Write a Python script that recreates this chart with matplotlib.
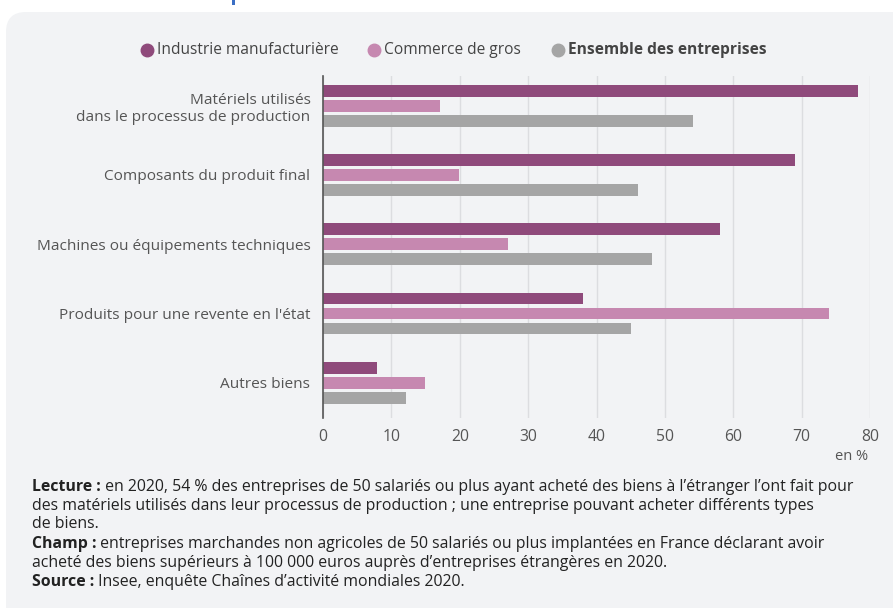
import matplotlib.pyplot as plt
import numpy as np
from matplotlib.patches import FancyBboxPatch, Rectangle

# %% Données
categories = [
    "Matériels utilisés\ndans le processus de production",
    "Composants du produit final",
    "Machines ou équipements techniques",
    "Produits pour une revente en l'état",
    "Autres biens",
]
industrie = [78.2, 69.0, 58.0, 38.0, 7.9]
commerce = [17.1, 19.9, 27.1, 74.0, 14.9]
ensemble = [54.1, 46.0, 48.1, 45.0, 12.1]
series_names = ["Industrie manufacturière", "Commerce de gros", "Ensemble des entreprises"]
x_ticks = [0, 10, 20, 30, 40, 50, 60, 70, 80]

colors = ["#8f4a7b", "#c688b0", "#a5a5a5"]
bg = "#f2f3f5"
text_col = "#555555"
plt.rcParams["font.family"] = ["Open Sans", "DejaVu Sans"]

# %% Figure
W, H = 893, 608
fig = plt.figure(figsize=(W / 100, H / 100), dpi=100)
fig.patch.set_facecolor("white")

# fond arrondi, en pixels
bg_ax = fig.add_axes([0, 0, 1, 1], zorder=-10)
bg_ax.set_xlim(0, W)
bg_ax.set_ylim(H, 0)
bg_ax.axis("off")
bg_ax.add_patch(FancyBboxPatch((6, 12), W + 40, H + 40,
                               boxstyle="round,pad=0,rounding_size=20",
                               facecolor=bg, edgecolor="none"))
bg_ax.add_patch(Rectangle((232, 0), 3, 5, facecolor="#3b6fc4", edgecolor="none"))

# %% Graphique
ax = fig.add_axes([323 / W, 1 - 418 / H, (870 - 323) / W, (418 - 76) / H])
ax.set_facecolor(bg)
y = np.arange(len(categories))
off = 0.217
h = 0.17
for i, vals in enumerate([industrie, commerce, ensemble]):
    ax.barh(y + (i - 1) * off, vals, height=h, color=colors[i], zorder=3)

ax.set_xlim(0, 80)
ax.set_ylim(4.51, -0.43)
ax.set_xticks(x_ticks)
ax.set_xticklabels([str(t) for t in x_ticks], color=text_col, fontsize=11.3)
ax.set_yticks(y)
ax.set_yticklabels(categories, color=text_col, fontsize=11.1, linespacing=1.2)
ax.tick_params(axis="both", length=0)
ax.tick_params(axis="x", pad=8)
ax.tick_params(axis="y", pad=9)
ax.grid(axis="x", color="#dcdde0", linewidth=1, zorder=0)
for s in ["top", "right", "bottom"]:
    ax.spines[s].set_visible(False)
ax.spines["left"].set_color("#555555")
ax.spines["left"].set_linewidth(1.2)
ax.spines["left"].set_zorder(4)

fig.text(868 / W, 1 - 457 / H, "en %", ha="right", va="center", color=text_col, fontsize=10.5)

# %% Légende
leg_y = 1 - 50 / H
leg_x = [147, 374, 558]
for i, name in enumerate(series_names):
    fig.add_artist(plt.Line2D([leg_x[i] / W], [leg_y], marker="o", markersize=9,
                              color=colors[i], linestyle="none"))
    fig.text((leg_x[i] + 10) / W, leg_y, name, ha="left", va="center",
             color="#444444", fontsize=11.2,
             fontweight="bold" if i == 2 else "normal")

# %% Notes
notes = [
    ("Lecture :", " en 2020, 54 % des entreprises de 50 salariés ou plus ayant acheté des biens à l’étranger l’ont fait pour", 487),
    ("", "des matériels utilisés dans leur processus de production ; une entreprise pouvant acheter différents types", 506),
    ("", "de biens.", 524),
    ("Champ :", " entreprises marchandes non agricoles de 50 salariés ou plus implantées en France déclarant avoir", 544),
    ("", "acheté des biens supérieurs à 100 000 euros auprès d’entreprises étrangères en 2020.", 563),
    ("Source :", " Insee, enquête Chaînes d’activité mondiales 2020.", 582),
]
fs = 11.4
for bold, rest, py in notes:
    if bold:
        t = fig.text(32 / W, 1 - py / H, bold, ha="left", va="center",
                     fontweight="bold", color="#222222", fontsize=fs)
        ax.annotate(rest, xy=(1, 0.5), xycoords=t, ha="left", va="center",
                    color="#222222", fontsize=fs, annotation_clip=False)
    else:
        fig.text(32 / W, 1 - py / H, rest, ha="left", va="center",
                 color="#222222", fontsize=fs)

fig.savefig("out.png", dpi=100, facecolor=fig.get_facecolor())
